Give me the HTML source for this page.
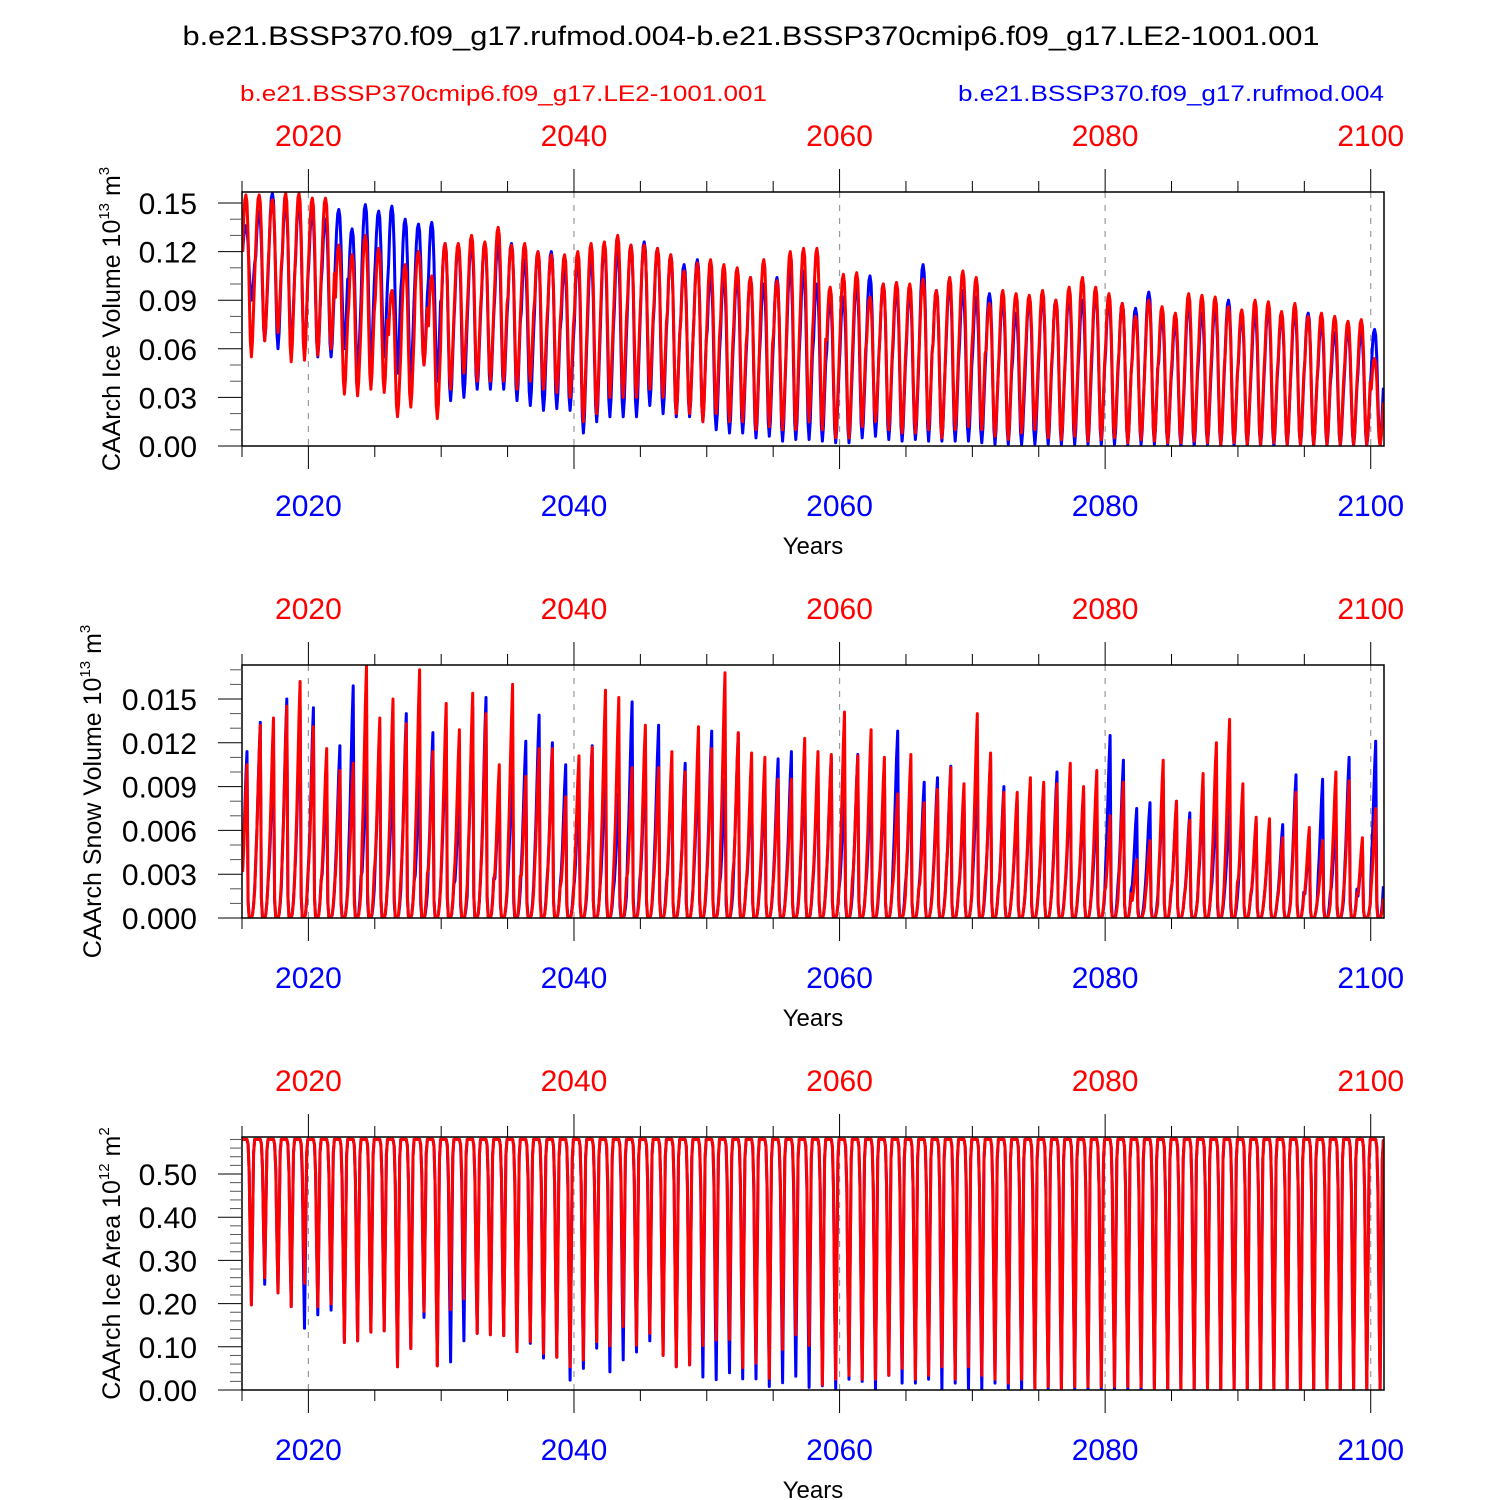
<!DOCTYPE html>
<html><head><meta charset="utf-8"><style>
html,body{margin:0;padding:0;background:#fff}
svg{display:block}
text{font-family:"Liberation Sans",Arial,sans-serif}
</style></head><body>
<svg id="chart" width="1500" height="1500" viewBox="0 0 1500 1500" xmlns="http://www.w3.org/2000/svg">
<text x="751" y="45" font-size="27" text-anchor="middle" textLength="1137" lengthAdjust="spacingAndGlyphs">b.e21.BSSP370.f09_g17.rufmod.004-b.e21.BSSP370cmip6.f09_g17.LE2-1001.001</text>
<text x="240" y="101" font-size="22" fill="#ff0000" textLength="527" lengthAdjust="spacingAndGlyphs">b.e21.BSSP370cmip6.f09_g17.LE2-1001.001</text>
<text x="958" y="101" font-size="22" fill="#0000ff" textLength="426" lengthAdjust="spacingAndGlyphs">b.e21.BSSP370.f09_g17.rufmod.004</text>
<g id="panels"></g>
</svg>
<script>
// ---- data ----
const startYear = 2015;
const xMajorYears = [2020, 2040, 2060, 2080, 2100];
const xMinorYears = [2015,2020,2025,2030,2035,2040,2045,2050,2055,2060,2065,2070,2075,2080,2085,2090,2095,2100];

// Ice volume yearly maxima/minima (10^13 m^3)
const redVolMax = [.155,.155,.152,.156,.156,.153,.153,.124,.118,.130,
.122,.096,.112,.120,.105,.125,.125,.130,.126,.135,
.124,.125,.120,.118,.118,.120,.125,.126,.130,.124,
.124,.122,.118,.108,.113,.115,.112,.110,.104,.115,
.102,.120,.122,.122,.098,.106,.107,.092,.100,.101,
.100,.103,.096,.104,.108,.104,.088,.096,.094,.093,
.096,.090,.098,.104,.098,.094,.088,.080,.090,.086,
.082,.094,.093,.092,.086,.084,.090,.089,.083,.088,
.080,.082,.080,.077,.078,.054];
const redVolMin = [.055,.065,.070,.052,.053,.056,.060,.032,.031,.035,
.033,.018,.024,.050,.017,.035,.045,.040,.040,.040,
.035,.040,.035,.033,.030,.015,.020,.030,.030,.030,
.035,.030,.020,.020,.015,.020,.015,.015,.010,.012,
.010,.010,.015,.010,.005,.005,.012,.015,.010,.008,
.008,.010,.005,.010,.012,.010,.006,.004,.008,.010,
.005,.004,.006,.003,.004,.005,.002,.004,.003,.002,
.002,.003,.002,.001,.002,.001,.001,.002,.001,.001,
.001,.001,.001,.001,.001,.000];
const blueVolMax = [.136,.145,.156,.150,.150,.145,.140,.146,.134,.149,
.145,.148,.140,.137,.138,.125,.124,.125,.125,.125,
.125,.115,.120,.120,.110,.115,.116,.124,.121,.124,
.126,.122,.118,.112,.115,.105,.104,.104,.104,.100,
.104,.110,.108,.100,.090,.092,.100,.105,.100,.096,
.095,.112,.096,.100,.096,.092,.094,.090,.082,.090,
.092,.090,.093,.090,.095,.090,.088,.085,.095,.080,
.076,.088,.082,.085,.090,.080,.082,.084,.080,.083,
.082,.076,.070,.072,.070,.072];
const blueVolMin = [.090,.065,.060,.060,.055,.055,.055,.060,.045,.050,
.055,.045,.040,.050,.040,.028,.030,.035,.035,.035,
.028,.025,.022,.023,.022,.008,.015,.018,.018,.018,
.025,.020,.018,.018,.015,.010,.008,.008,.005,.006,
.003,.004,.004,.003,.002,.002,.005,.006,.004,.003,
.004,.003,.003,.003,.003,.002,.001,.001,.001,.001,
.001,.001,.001,.001,.001,.001,.001,.001,.001,.001,
.000,.000,.001,.000,.000,.000,.000,.000,.000,.000,
.000,.000,.000,.000,.000,.000];

// Snow volume yearly maxima (10^-3 x 10^13 m^3)
const redSnowMax = [10.5,13.2,13.7,14.5,16.2,13.1,11.6,10.1,10.6,17.3,
13.7,15.0,13.3,17.0,11.4,14.7,12.9,15.4,14.0,10.5,
16.0,9.7,11.6,11.6,8.3,11.1,11.7,15.6,15.1,10.3,
13.2,10.3,11.4,10.0,13.1,11.6,16.8,12.7,11.3,11.0,
9.5,9.5,12.3,11.4,11.2,14.1,11.1,12.9,11.0,8.5,
11.2,7.9,8.8,10.3,9.2,14.0,11.3,8.6,8.6,9.6,
9.3,9.2,10.6,9.0,10.1,7.0,9.3,4.0,5.3,10.8,
8.0,6.7,9.9,12.0,13.6,9.2,6.9,6.8,5.5,8.6,
6.2,5.3,10.0,9.4,5.5,7.5];
const blueSnowMax = [11.4,13.4,11.5,15.0,14.5,14.4,10.0,11.8,15.9,10.5,
13.0,10.5,14.0,9.7,12.7,13.0,8.5,14.5,15.1,9.0,
10.5,12.1,13.9,12.0,10.5,8.5,11.8,10.5,8.5,14.8,
11.0,13.2,10.5,10.6,11.0,12.8,9.5,12.6,10.0,9.5,
10.9,11.4,11.0,10.5,11.0,9.0,11.2,10.0,10.0,12.8,
10.5,9.3,9.6,10.4,8.5,10.5,11.0,9.0,8.0,9.0,
9.0,10.0,9.5,8.5,8.0,12.5,10.8,7.5,7.9,9.5,
8.0,7.2,9.0,8.0,8.0,8.2,6.5,6.5,6.4,9.8,
5.5,9.5,7.0,11.0,5.0,12.1];

// Ice area yearly minima (10^12 m^2); winter max
const areaMax = 0.58;
const redAreaMin = [.197,.26,.225,.193,.247,.193,.20,.110,.114,.134,
.137,.054,.096,.182,.056,.186,.211,.131,.128,.126,
.089,.112,.085,.076,.054,.07,.112,.102,.147,.104,
.131,.08,.054,.058,.103,.116,.117,.052,.062,.027,
.094,.128,.103,.012,.025,.034,.025,.025,.034,.05,
.025,.034,.054,.025,.054,.034,.025,.016,.025,.004,
.008,.004,.008,.008,.008,.008,.008,.008,.004,0,
.004,0,.004,0,0,0,0,0,0,0,
0,0,0,0,0,0];
const blueAreaMin = [.197,.245,.225,.193,.143,.174,.185,.110,.114,.134,
.137,.054,.096,.168,.056,.065,.114,.131,.128,.126,
.089,.108,.074,.076,.023,.05,.097,.042,.07,.088,
.114,.08,.054,.058,.03,.024,.04,.026,.026,.008,
.017,.032,.006,.01,0,.025,.02,0,.034,.016,
.016,.025,0,.016,0,0,.016,0,0,.004,
.004,0,0,0,.004,0,0,0,0,0,
0,0,0,0,0,0,0,0,0,0,
0,0,0,0,0,0];

// seasonal shapes (fraction of annual range, Jan..Dec)
const volShape  = [.65,.85,.97,1,.95,.75,.4,.1,0,.1,.3,.5];
const snowShape = [.3,.45,.65,.85,1,.1,0,0,0,.02,.08,.18];
const areaShape = [1,1,1,1,1,.97,.8,.35,0,.45,.92,1];

const yLabelsVol = ["0.00","0.03","0.06","0.09","0.12","0.15"];
const yLabelsSnow = ["0.000","0.003","0.006","0.009","0.012","0.015"];
const yLabelsArea = ["0.00","0.10","0.20","0.30","0.40","0.50"];

// ---- drawing ----
const NS = "http://www.w3.org/2000/svg";
const L = 242, R = 1384;
function xOf(t){ return L + (t - startYear) * (R - L) / 86; }
function mk(tag, attrs, parent){
  const e = document.createElementNS(NS, tag);
  for (const k in attrs) e.setAttribute(k, attrs[k]);
  parent.appendChild(e);
  return e;
}
const root = document.getElementById('panels');

const panels = [
  {key:'ice-volume', top:192, bottom:446, scale:1620, minorStep:0.01, minorMax:0.155, majorStep:0.03, labels:yLabelsVol,
   titleX:120, title:['CAArch Ice Volume 10','13',' m','3'],
   series:[[blueVolMax,blueVolMin,'#0000ff','blue'],[redVolMax,redVolMin,'#ff0000','red']], kind:'vol'},
  {key:'snow-volume', top:665, bottom:918, scale:14600, minorStep:0.001, minorMax:0.0172, majorStep:0.003, labels:yLabelsSnow,
   titleX:101, title:['CAArch Snow Volume 10','13',' m','3'],
   series:[[blueSnowMax,null,'#0000ff','blue'],[redSnowMax,null,'#ff0000','red']], kind:'snow'},
  {key:'ice-area', top:1137, bottom:1390, scale:432, minorStep:0.02, minorMax:0.585, majorStep:0.1, labels:yLabelsArea,
   titleX:120, title:['CAArch Ice Area 10','12',' m','2'],
   series:[[blueAreaMin,null,'#0000ff','blue'],[redAreaMin,null,'#ff0000','red']], kind:'area'}
];

panels.forEach((p, pi) => {
  const g = mk('g', {}, root);
  
  
  const yOf = v => p.bottom - v * p.scale;
  const cid = 'clip' + pi;
  const cp = mk('clipPath', {id: cid}, g);
  mk('rect', {x: L, y: p.top, width: R - L, height: p.bottom - p.top}, cp);

  // grid
  xMajorYears.forEach(yr => {
    const ln = mk('line', {x1: xOf(yr), x2: xOf(yr), y1: p.top, y2: p.bottom, stroke:'#999', 'stroke-width':1.2, 'stroke-dasharray':'6,7'}, g);
    
    
  });

  // series
  p.series.forEach(s => {
    const pts = [];
    for (let y = 0; y < 86; y++) {
      for (let m = 0; m < 12; m++) {
        const t = startYear + y + (m + 0.5) / 12;
        let v;
        if (p.kind === 'vol') v = s[1][y] + volShape[m] * (s[0][y] - s[1][y]);
        else if (p.kind === 'snow') v = s[0][y] * 0.001 * snowShape[m];
        else v = s[0][y] + areaShape[m] * (areaMax - s[0][y]);
        pts.push(xOf(t).toFixed(1) + ',' + yOf(v).toFixed(1));
      }
    }
    const pl = mk('polyline', {points: pts.join(' '), fill:'none', stroke: s[2], 'stroke-width':3, 'stroke-linejoin':'round', 'clip-path':'url(#'+cid+')'}, g);
    
    
  });

  // frame
  const fr = mk('rect', {x: L, y: p.top, width: R - L, height: p.bottom - p.top, fill:'none', stroke:'#000', 'stroke-width':1.5}, g);
  
  

  // x ticks top & bottom
  xMinorYears.forEach(yr => {
    const major = xMajorYears.indexOf(yr) >= 0;
    const len = major ? 23 : 11;
    mk('line', {x1: xOf(yr), x2: xOf(yr), y1: p.top - len, y2: p.top, stroke:'#000', 'stroke-width':1}, g);
    mk('line', {x1: xOf(yr), x2: xOf(yr), y1: p.bottom, y2: p.bottom + len, stroke:'#000', 'stroke-width':1}, g);
  });
  xMajorYears.forEach(yr => {
    const tt = mk('text', {x: xOf(yr), y: p.top - 46, 'font-size':30, fill:'#ff0000', 'text-anchor':'middle'}, g);
    tt.textContent = yr;
    
    
    const tb = mk('text', {x: xOf(yr), y: p.bottom + 70, 'font-size':30, fill:'#0000ff', 'text-anchor':'middle'}, g);
    tb.textContent = yr;
    
    
  });
  const xt = mk('text', {x: 813, y: p.bottom + 108, 'font-size':24, 'text-anchor':'middle'}, g);
  xt.textContent = 'Years';
  
  

  // y ticks
  const nMinor = Math.floor(p.minorMax / p.minorStep + 1e-6);
  for (let i = 0; i <= nMinor; i++) {
    const v = i * p.minorStep;
    const isMajor = Math.abs(v / p.majorStep - Math.round(v / p.majorStep)) < 1e-6;
    const len = isMajor ? 24 : 12;
    mk('line', {x1: L - len, x2: L, y1: yOf(v), y2: yOf(v), stroke: isMajor ? '#000' : '#555', 'stroke-width':1}, g);
  }
  p.labels.forEach((lab, i) => {
    const v = i * p.majorStep;
    const t = mk('text', {x: 197, y: yOf(v) + 11, 'font-size':30, 'text-anchor':'end'}, g);
    t.textContent = lab;
    
    
  });

  // y title
  const cy = (p.top + p.bottom) / 2;
  const yt = mk('text', {x: 0, y: 0, 'font-size':25, 'text-anchor':'middle', transform:'translate(' + p.titleX + ',' + cy + ') rotate(-90)'}, g);
  
  
  const a = mk('tspan', {}, yt); a.textContent = p.title[0];
  const b = mk('tspan', {dy:-11, 'font-size':15}, yt); b.textContent = p.title[1];
  const c = mk('tspan', {dy:11}, yt); c.textContent = p.title[2];
  const d = mk('tspan', {dy:-11, 'font-size':15}, yt); d.textContent = p.title[3];
});
</script>
</body></html>
